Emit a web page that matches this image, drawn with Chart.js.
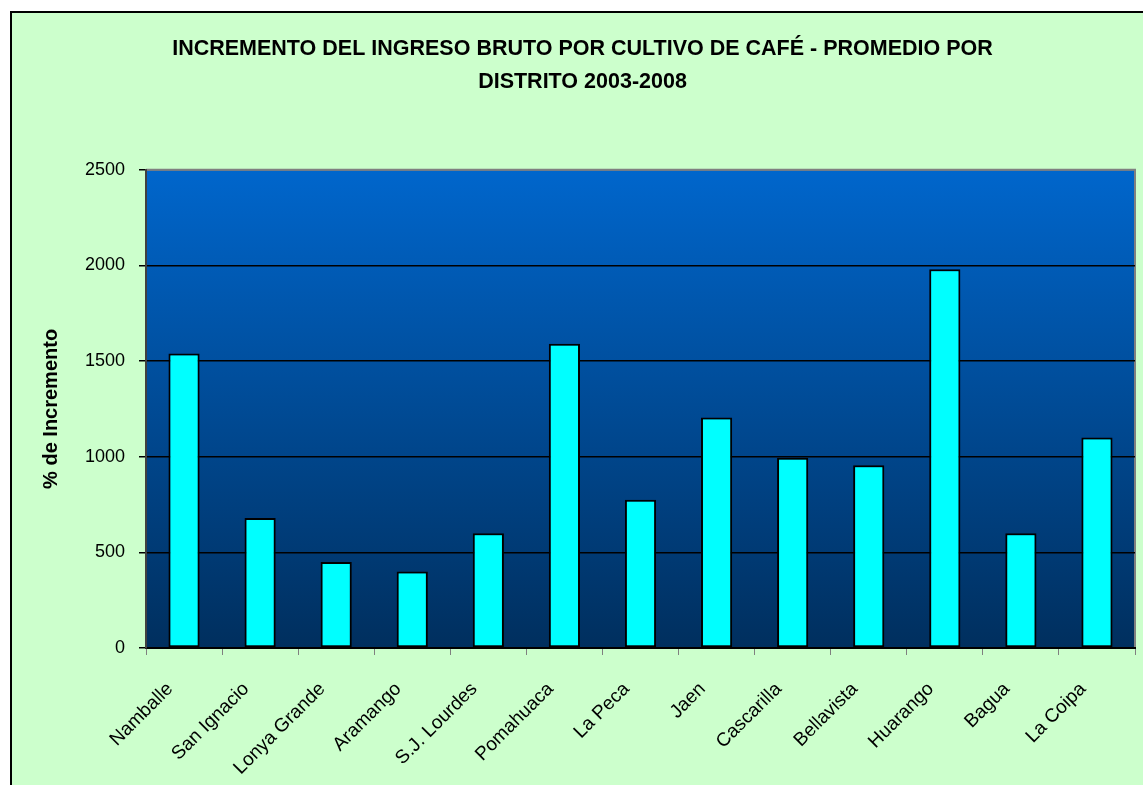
<!DOCTYPE html>
<html>
<head>
<meta charset="utf-8">
<script src="https://cdn.jsdelivr.net/npm/chart.js@4.4.1/dist/chart.umd.min.js"></script>
<style>
  html, body { margin: 0; padding: 0; background: #ffffff; }
  #wrap { width: 1143px; height: 785px; position: relative; }
</style>
</head>
<body>
<div id="wrap"><canvas id="c" width="1143" height="785"></canvas></div>
<script>
const titleLines = ["INCREMENTO DEL INGRESO BRUTO POR CULTIVO DE CAFÉ - PROMEDIO POR", "DISTRITO 2003-2008"];
const yAxisTitle = "% de Incremento";
const categories = ["Namballe", "San Ignacio", "Lonya Grande", "Aramango", "S.J. Lourdes", "Pomahuaca", "La Peca", "Jaen", "Cascarilla", "Bellavista", "Huarango", "Bagua", "La Coipa"];
const incremento = [1540, 680, 450, 400, 600, 1590, 775, 1205, 995, 955, 1980, 600, 1100];
const yTicks = [0, 500, 1000, 1500, 2000, 2500];

const sans = "'Liberation Sans', Arial, sans-serif";

const frame = {
  id: 'frame',
  beforeDraw(chart) {
    const ctx = chart.ctx;
    const a = chart.chartArea;
    ctx.save();
    ctx.fillStyle = '#ffffff';
    ctx.fillRect(0, 0, chart.width, chart.height);
    ctx.fillStyle = '#CCFFCC';
    ctx.fillRect(10, 12, chart.width - 10, chart.height - 12);
    ctx.strokeStyle = '#000000';
    ctx.lineWidth = 2;
    ctx.beginPath();
    ctx.moveTo(11, chart.height);
    ctx.lineTo(11, 12);
    ctx.lineTo(chart.width, 12);
    ctx.stroke();
    const g = ctx.createLinearGradient(0, a.top, 0, a.bottom);
    g.addColorStop(0, '#0066CC');
    g.addColorStop(1, '#002F5E');
    ctx.fillStyle = g;
    ctx.fillRect(a.left, a.top, a.right - a.left, a.bottom - a.top);
    ctx.strokeStyle = '#808080';
    ctx.lineWidth = 2;
    ctx.beginPath();
    ctx.moveTo(a.left, a.top);
    ctx.lineTo(a.right, a.top);
    ctx.lineTo(a.right, a.bottom);
    ctx.stroke();
    ctx.restore();
  }
};

new Chart(document.getElementById('c'), {
  type: 'bar',
  data: {
    labels: categories,
    datasets: [{
      data: incremento,
      backgroundColor: '#00FFFF',
      borderColor: '#000000',
      borderWidth: 2,
      borderSkipped: false,
      barPercentage: 0.41,
      categoryPercentage: 1.0
    }]
  },
  options: {
    responsive: false,
    animation: false,
    layout: { padding: { top: 12, left: 30, right: 8, bottom: 0 } },
    plugins: {
      legend: { display: false },
      tooltip: { enabled: false },
      title: {
        display: true,
        text: titleLines,
        color: '#000000',
        font: { family: sans, size: 21.5, weight: 'bold', lineHeight: 1.53 },
        padding: { top: 21, bottom: 71 }
      }
    },
    scales: {
      x: {
        grid: { display: true, drawOnChartArea: false, color: '#808080', tickLength: 7, offset: true },
        border: { display: true, color: '#000000', width: 2 },
        ticks: {
          color: '#000000',
          font: { family: sans, size: 19 },
          maxRotation: 45, minRotation: 45,
          autoSkip: false,
          padding: 23,
          labelOffset: -14
        },
        afterFit(scale) { scale.height = 137; }
      },
      y: {
        min: 0, max: 2500,
        afterBuildTicks(scale) { scale.ticks = yTicks.map(v => ({ value: v })); },
        grid: {
          color: (c) => (c.tick && c.tick.value === 2500) ? '#808080' : '#000000',
          tickColor: '#000000',
          lineWidth: 1.5,
          tickLength: 7
        },
        border: { display: true, color: '#404040', width: 2 },
        ticks: {
          color: '#000000',
          font: { family: sans, size: 18 },
          padding: 14,
          callback: (v) => String(v)
        },
        title: {
          display: true,
          text: yAxisTitle,
          color: '#000000',
          font: { family: sans, size: 20, weight: 'bold' },
          padding: { top: 9, bottom: 0 }
        },
        afterFit(scale) { scale.width = 116; }
      }
    }
  },
  plugins: [frame]
});
</script>
</body>
</html>
